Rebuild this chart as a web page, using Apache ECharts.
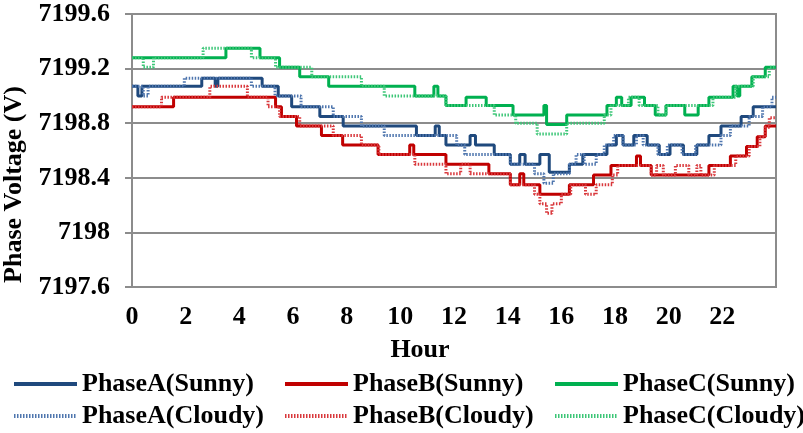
<!DOCTYPE html>
<html>
<head>
<meta charset="utf-8">
<script src="https://cdn.jsdelivr.net/npm/echarts@6/dist/echarts.min.js"></script>
<style>
html, body { margin: 0; padding: 0; background: #fff; }
#result1 { width: 803px; height: 433px; }
</style>
</head>
<body>
<div id="result1"></div>
<script>
// axis ticks
var hourTicks = [0, 2, 4, 6, 8, 10, 12, 14, 16, 18, 20, 22];
var voltTicks = [7197.6, 7198, 7198.4, 7198.8, 7199.2, 7199.6];

// PhaseA (Sunny)
var aSunnyHour = [0, 0.22, 0.37, 2.6, 3.1, 3.2, 4.85, 5.45, 5.95, 7.0, 7.87, 10.6, 11.3, 11.45, 11.7, 12.6, 12.8, 13.5, 14.1, 14.45, 14.65, 15.2, 15.55, 16.3, 16.8, 17.7, 18.05, 18.3, 18.7, 19.2, 19.65, 20.05, 20.55, 21.05, 21.5, 21.95, 22.7, 23.15, 24];
var aSunnyVolt = [7199.07, 7199.00, 7199.07, 7199.13, 7199.07, 7199.13, 7199.07, 7199.00, 7198.92, 7198.85, 7198.78, 7198.71, 7198.78, 7198.71, 7198.64, 7198.71, 7198.64, 7198.57, 7198.50, 7198.57, 7198.50, 7198.57, 7198.44, 7198.50, 7198.57, 7198.64, 7198.71, 7198.64, 7198.71, 7198.64, 7198.57, 7198.64, 7198.57, 7198.64, 7198.71, 7198.78, 7198.85, 7198.92, 7198.92];

// PhaseB (Sunny)
var bSunnyHour = [0, 1.55, 5.35, 5.57, 6.13, 7.06, 7.85, 9.17, 10.35, 10.5, 11.7, 13.3, 14.1, 14.45, 14.6, 15.2, 16.3, 17.2, 17.85, 18.8, 18.95, 19.35, 21.5, 22.3, 22.9, 23.3, 23.6, 24];
var bSunnyVolt = [7198.92, 7198.99, 7198.92, 7198.85, 7198.78, 7198.71, 7198.64, 7198.57, 7198.64, 7198.57, 7198.50, 7198.43, 7198.35, 7198.43, 7198.35, 7198.28, 7198.35, 7198.42, 7198.49, 7198.56, 7198.49, 7198.42, 7198.49, 7198.56, 7198.63, 7198.70, 7198.78, 7198.78];

// PhaseC (Sunny)
var cSunnyHour = [0, 3.5, 4.77, 5.5, 6.25, 7.33, 10.54, 11.25, 11.4, 11.7, 12.45, 13.2, 14.2, 15.35, 15.45, 16.2, 17.7, 18.05, 18.25, 18.6, 19.1, 19.5, 19.9, 20.6, 21.1, 21.5, 22.4, 22.55, 22.65, 23.1, 23.6, 24];
var cSunnyVolt = [7199.28, 7199.35, 7199.28, 7199.21, 7199.14, 7199.07, 7199.00, 7199.07, 7199.00, 7198.93, 7198.99, 7198.93, 7198.86, 7198.93, 7198.79, 7198.86, 7198.93, 7198.99, 7198.93, 7198.99, 7198.93, 7198.86, 7198.93, 7198.86, 7198.93, 7198.99, 7199.07, 7199.00, 7199.07, 7199.14, 7199.21, 7199.21];

// PhaseA (Cloudy)
var aCloudyHour = [0, 0.42, 0.6, 1.95, 4.45, 5.33, 6.3, 7.5, 8.55, 9.4, 12.1, 12.4, 14.1, 15.0, 15.35, 15.7, 16.3, 16.55, 16.85, 17.3, 17.6, 17.95, 18.3, 18.8, 19.05, 19.6, 19.95, 20.5, 21.0, 21.95, 22.3, 23.0, 23.5, 23.85, 24];
var aCloudyVolt = [7199.07, 7199.00, 7199.07, 7199.13, 7199.07, 7199.00, 7198.92, 7198.85, 7198.78, 7198.71, 7198.64, 7198.57, 7198.50, 7198.43, 7198.36, 7198.43, 7198.50, 7198.57, 7198.50, 7198.57, 7198.64, 7198.71, 7198.64, 7198.71, 7198.64, 7198.57, 7198.64, 7198.57, 7198.64, 7198.71, 7198.78, 7198.85, 7198.92, 7198.99, 7198.99];

// PhaseB (Cloudy)
var bCloudyHour = [0, 1.1, 2.9, 4.3, 5.07, 5.5, 6.25, 7.5, 8.55, 9.2, 10.54, 11.7, 12.25, 12.6, 14.1, 15.0, 15.2, 15.45, 15.65, 16.0, 16.35, 16.9, 17.3, 17.9, 18.1, 19.35, 19.55, 19.8, 20.25, 20.75, 21.05, 21.2, 21.7, 22.5, 23.0, 23.4, 23.6, 23.75, 24];
var bCloudyVolt = [7198.92, 7198.99, 7199.07, 7198.99, 7198.92, 7198.85, 7198.78, 7198.71, 7198.64, 7198.57, 7198.50, 7198.43, 7198.50, 7198.43, 7198.35, 7198.28, 7198.21, 7198.14, 7198.21, 7198.28, 7198.35, 7198.28, 7198.35, 7198.42, 7198.49, 7198.42, 7198.49, 7198.42, 7198.49, 7198.42, 7198.49, 7198.42, 7198.49, 7198.56, 7198.63, 7198.70, 7198.77, 7198.84, 7198.84];

// PhaseC (Cloudy)
var cCloudyHour = [0, 0.42, 0.8, 2.65, 4.45, 5.35, 6.7, 8.55, 9.4, 11.7, 13.5, 14.3, 15.1, 16.2, 17.6, 17.85, 18.5, 18.9, 19.6, 19.9, 21.65, 22.5, 23.15, 23.75, 24];
var cCloudyVolt = [7199.28, 7199.21, 7199.28, 7199.35, 7199.28, 7199.21, 7199.14, 7199.07, 7199.00, 7198.93, 7198.86, 7198.80, 7198.72, 7198.80, 7198.86, 7198.93, 7198.99, 7198.93, 7198.86, 7198.93, 7198.99, 7199.07, 7199.14, 7199.21, 7199.21];

var names = ['PhaseA(Sunny)', 'PhaseB(Sunny)', 'PhaseC(Sunny)', 'PhaseA(Cloudy)', 'PhaseB(Cloudy)', 'PhaseC(Cloudy)'];
var colors = ['#1F497D', '#C00000', '#00B050', '#4F76AE', '#D9383C', '#3CC677'];

function pairs(h, v) {
    return h.map(function (x, i) { return [x, v[i]]; });
}

var font = 'Liberation Serif';
var grey = '#8C8C8C';

function stepSeries(idx, h, v, cloudy) {
    return {
        name: names[idx],
        type: 'line',
        step: 'end',
        symbol: 'none',
        z: cloudy ? 3 : 2,
        lineStyle: {
            color: colors[idx],
            width: 3,
            type: cloudy ? [1.5, 1.5] : 'solid'
        },
        itemStyle: { color: colors[idx] },
        data: pairs(h, v)
    };
}

function legendAt(left, items) {
    return {
        orient: 'vertical',
        left: left,
        top: 371,
        padding: 0,
        itemWidth: 63,
        itemHeight: 14,
        itemGap: 6,
        itemStyle: { opacity: 0 },
        lineStyle: { width: 4 },
        textStyle: { fontFamily: font, fontWeight: 'bold', fontSize: 26, lineHeight: 26, color: '#000' },
        data: items
    };
}

var myChart1 = echarts.init(document.getElementById('result1'));

myChart1.setOption({
    animation: false,
    backgroundColor: '#fff',
    color: colors,
    grid: {
        left: 132,
        right: 27,
        top: 14,
        bottom: 146,
        outerBoundsMode: 'none',
        show: true,
        borderColor: grey,
        borderWidth: 2
    },
    legend: [
        legendAt(12, [names[0], names[3]]),
        legendAt(283, [names[1], names[4]]),
        legendAt(553, [names[2], names[5]])
    ],
    xAxis: {
        type: 'value',
        min: 0,
        max: 24,
        interval: 2,
        name: 'Hour',
        nameLocation: 'middle',
        nameGap: 50,
        nameTextStyle: {
            fontFamily: font, fontWeight: 'bold', fontSize: 26, color: '#000',
            padding: [0, 68, 0, 0]
        },
        axisLine: { lineStyle: { color: grey, width: 2 } },
        axisTick: { show: false },
        splitLine: { show: false },
        axisLabel: {
            showMaxLabel: false,
            margin: 17,
            fontFamily: font, fontWeight: 'bold', fontSize: 26, color: '#000',
            formatter: function (v) { return hourTicks.indexOf(v) >= 0 ? String(v) : ''; }
        }
    },
    yAxis: {
        type: 'value',
        min: voltTicks[0],
        max: voltTicks[voltTicks.length - 1],
        interval: 0.4,
        name: 'Phase Voltage (V)',
        nameLocation: 'middle',
        nameGap: 102,
        nameTextStyle: {
            fontFamily: font, fontWeight: 'bold', fontSize: 26, color: '#000',
            padding: [0, 68, 0, 0]
        },
        axisLine: { show: true, lineStyle: { color: grey, width: 2 } },
        axisTick: { show: true, length: 7, lineStyle: { color: grey, width: 2 } },
        splitLine: { lineStyle: { color: grey, width: 2 } },
        axisLabel: {
            margin: 22,
            fontFamily: font, fontWeight: 'bold', fontSize: 26, color: '#000',
            formatter: function (v) { return String(+v.toFixed(1)); }
        }
    },
    series: [
        stepSeries(0, aSunnyHour, aSunnyVolt, false),
        stepSeries(1, bSunnyHour, bSunnyVolt, false),
        stepSeries(2, cSunnyHour, cSunnyVolt, false),
        stepSeries(3, aCloudyHour, aCloudyVolt, true),
        stepSeries(4, bCloudyHour, bCloudyVolt, true),
        stepSeries(5, cCloudyHour, cCloudyVolt, true)
    ]
});
</script>
</body>
</html>
